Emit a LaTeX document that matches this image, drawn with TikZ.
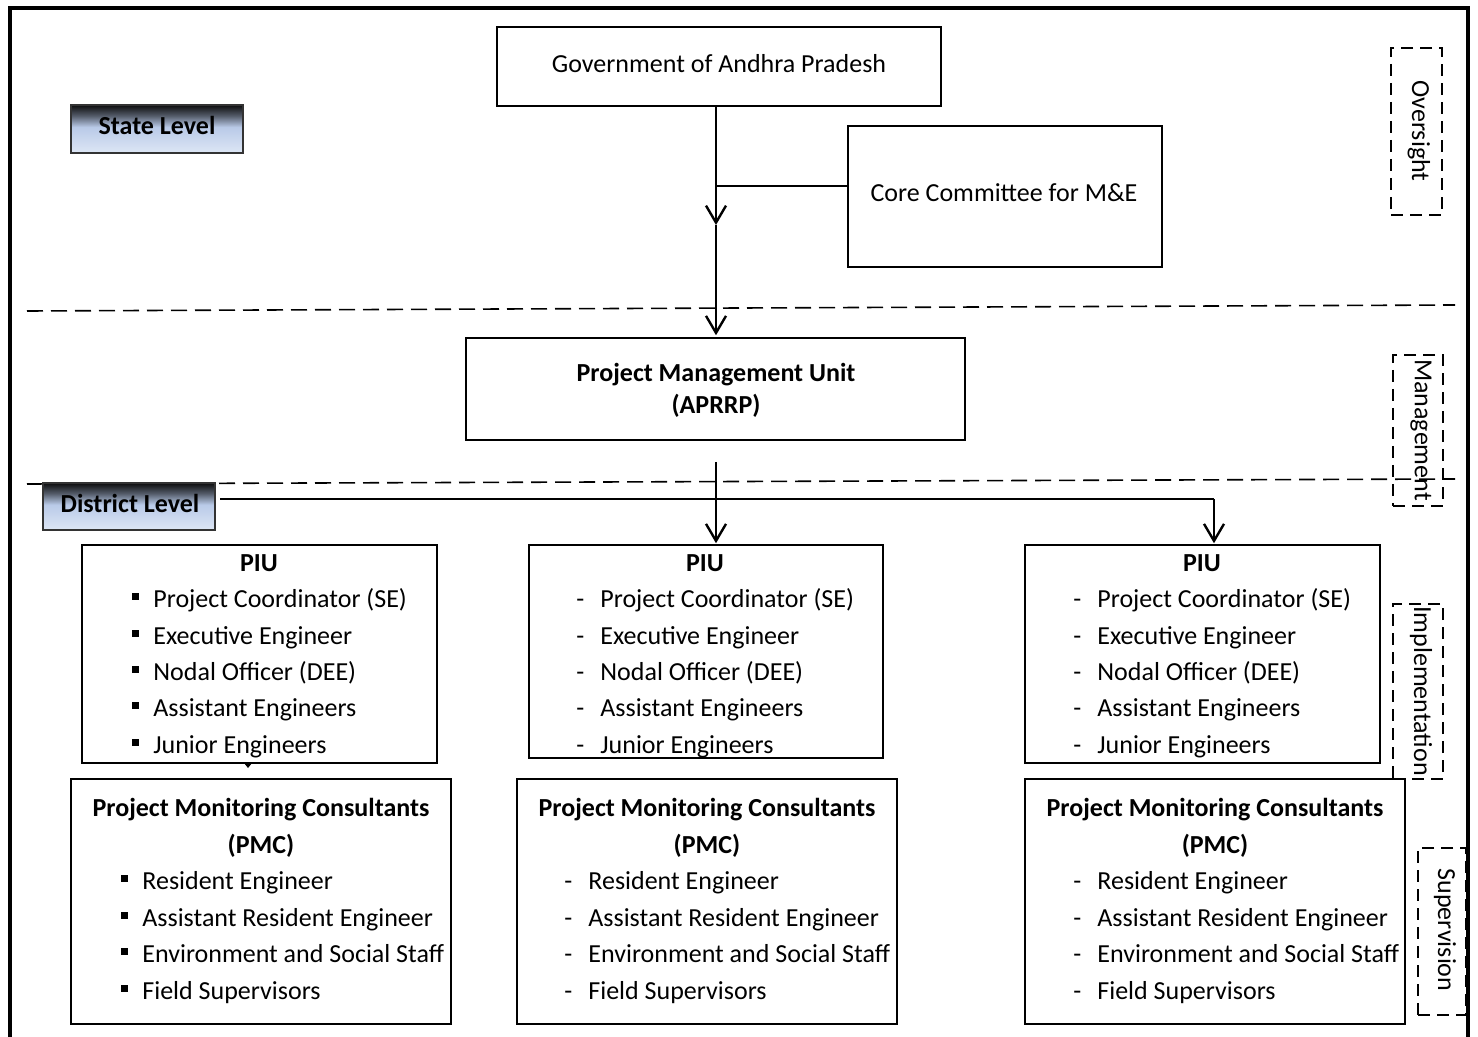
\documentclass[tikz,border=0pt]{standalone}
\usepackage{fontspec}
\setmainfont{Carlito}
\usetikzlibrary{arrows.meta,fit}
\definecolor{hdrmid}{HTML}{B9CAE8}
\definecolor{hdrbot}{HTML}{DDE6F5}
\pgfdeclareverticalshading{hdrshade}{100bp}{color(0bp)=(hdrbot); color(25bp)=(hdrbot); color(52bp)=(hdrmid); color(64bp)=(black!55!hdrmid); color(75bp)=(black!95); color(100bp)=(black!95)}
\begin{document}
\begin{tikzpicture}[x=0.5pt,y=-0.5pt,
  box/.style={draw,line width=0.75pt,inner sep=0pt},
  hdr/.style={draw=black!80,line width=0.6pt,inner sep=0pt,shading=hdrshade},
  txt/.style={font=\fontsize{13}{15}\selectfont,inner sep=0pt,anchor=base},
  btxt/.style={font=\fontsize{13}{15}\selectfont\bfseries,inner sep=0pt,anchor=base},
  item/.style={txt,anchor=base west},
  arr/.style={line width=1.2pt,-{Straight Barb[length=8.5pt,width=10pt,line width=1.2pt]}},
  conn/.style={line width=1.2pt},
  sep/.style={line width=0.8pt,dash pattern=on 8pt off 4pt},
  dbox/.style={draw,line width=0.8pt,dash pattern=on 6pt off 3.5pt,inner sep=0pt},
  side/.style={font=\fontsize{13}{15}\selectfont,inner sep=0pt,rotate=-90}
]
\useasboundingbox (0,0) rectangle (1478,1037);
% outer border
\draw[line width=2pt] (10,1037) -- (10,8) -- (1468,8) -- (1468,1037);

% dashed separators
\coordinate (s1a) at (27,311); \coordinate (s1b) at (1455,305);
\coordinate (s2a) at (27,484); \coordinate (s2b) at (1455,479);
\draw[sep] (s1a) -- (s1b);
\draw[sep] (s2a) -- (s2b);

% state level
\node[box,fit={(497,27) (941,106)}] (gov) {};
\node[txt] (govt) at (719,73) {Government of Andhra Pradesh};
\node[hdr,fit={(71,105) (243,153)}] (state) {};
\node[btxt] (statet) at (157,135) {State Level};
\node[box,fit={(848,126) (1162,267)}] (core) {};
\node[txt] (coret) at (1004,202) {Core Committee for M\&E};
\node[box,fit={(466,338) (965,440)}] (pmu) {};
\node[btxt] (pmu1) at (716,382) {Project Management Unit};
\node[btxt] (pmu2) at (716,414) {(APRRP)};

\coordinate (j) at (716,186);
\coordinate (mid) at (716,225);
\draw[conn] (core.west |- j) -- (j);
\draw[arr] (gov.south -| j) -- (mid);
\draw[arr] (mid) -- ([yshift=1pt]pmu.north -| mid);

% district level
\node[hdr,fit={(43,483) (215,530)}] (dist) {};
\node[btxt] (distt) at (130,513) {District Level};
\coordinate (d0) at (716,462);
\coordinate (h0) at (220,499);
\coordinate (h1) at (1214,499);

% PIU boxes
\node[box,fit={(82,545) (437,763)}] (piu1) {};
\node[box,fit={(529,545) (883,758)}] (piu2) {};
\node[box,fit={(1025,545) (1380,763)}] (piu3) {};
\draw[arr] (d0) -- ([yshift=0.5pt]d0 |- piu2.north);
\draw[conn] (h0) -- (h1);
\draw[arr] (h1) -- ([yshift=0.5pt]h1 |- piu3.north);
\fill (244,763) -- (252,763) -- (248,768) -- cycle;

\node[btxt] (piu1t) at (259,571) {PIU};
\node[btxt] (piu2t) at (705,571) {PIU};
\node[btxt] (piu3t) at (1202,571) {PIU};

\foreach \n/\y/\t in {a/599/Project Coordinator (SE),b/636/Executive Engineer,c/672/Nodal Officer (DEE),d/708/Assistant Engineers,e/745/Junior Engineers}{
  \fill (132,\y-6) rectangle (139,\y+1);
  \node[item] (p1\n) at (153,\y+8) {\t};
  \node[item] (p2m\n) at (576,\y+8) {-};
  \node[item] (p2\n) at (600,\y+8) {\t};
  \node[item] (p3m\n) at (1073,\y+8) {-};
  \node[item] (p3\n) at (1097,\y+8) {\t};
}

% PMC boxes
\node[box,fit={(71,779) (451,1024)}] (pmc1) {};
\node[box,fit={(517,779) (897,1024)}] (pmc2) {};
\node[box,fit={(1025,779) (1405,1024)}] (pmc3) {};
\foreach \k/\cx in {1/261,2/707,3/1215}{
  \node[btxt] (pmc\k t) at (\cx,816) {Project Monitoring Consultants};
  \node[btxt] (pmc\k u) at (\cx,853) {(PMC)};
}
\foreach \n/\y/\t in {a/881/Resident Engineer,b/918/Assistant Resident Engineer,c/954/Environment and Social Staff,d/991/Field Supervisors}{
  \fill (121,\y-6) rectangle (128,\y+1);
  \node[item] (m1\n) at (142,\y+8) {\t};
  \node[item] (m2m\n) at (564,\y+8) {-};
  \node[item] (m2\n) at (588,\y+8) {\t};
  \node[item] (m3m\n) at (1073,\y+8) {-};
  \node[item] (m3\n) at (1097,\y+8) {\t};
}

% side labels
\node[dbox,fit={(1391,48) (1442,215)}] (overb) {};
\node[side] (over) at (1419,131) {Oversight};
\node[dbox,fit={(1393,355) (1443,506)}] (manb) {};
\node[side] (man) at (1421,430) {Management};
\node[dbox,fit={(1393,604) (1443,779)}] (impb) {};
\node[side] (imp) at (1421,691) {Implementation};
\node[dbox,fit={(1418,848) (1466,1015)}] (supb) {};
\node[side] (sup) at (1445,930) {Supervision};
\end{tikzpicture}
\end{document}
